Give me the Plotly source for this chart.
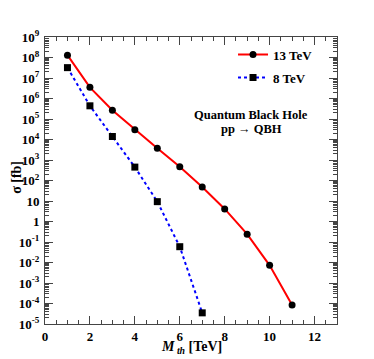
import numpy as np
import plotly.graph_objects as go

# cross sections (fb)
mass_13 = [1, 2, 3, 4, 5, 6, 7, 8, 9, 10, 11]
sigma_13 = [1.3e8, 3.5e6, 2.7e5, 3.0e4, 3.7e3, 470, 48, 4.1, 0.24, 7.3e-3, 8.5e-5]

mass_8 = [1, 2, 3, 4, 5, 6, 7]
sigma_8 = [3.2e7, 4.4e5, 1.4e4, 450, 9.3, 0.059, 3.5e-5]

y_exps = list(range(-5, 10))
y_labels = []
for e in y_exps:
    if e == 0:
        y_labels.append("1")
    elif e == 1:
        y_labels.append("10")
    else:
        y_labels.append(f"10<sup>{e}</sup>")

FONT = "Liberation Serif"
BOLD = dict(family=FONT, color="black", weight="bold")

fig = go.Figure()

fig.add_trace(go.Scatter(
    x=mass_13, y=sigma_13, mode="lines+markers", name="13 TeV", legendgroup="a",
    line=dict(color="#ff0000", width=2),
    marker=dict(symbol="circle", size=7, color="black"),
))
fig.add_trace(go.Scatter(
    x=mass_8, y=sigma_8, mode="lines+markers", name="8 TeV", legendgroup="b",
    line=dict(color="#0000ff", width=2, dash="dot"),
    marker=dict(symbol="square", size=7, color="black"),
))

# minor ticks 2..9 in every decade
minor_vals = [k * 10.0 ** e for e in range(-5, 9) for k in range(2, 10)]

fig.update_xaxes(
    range=[0, 13], tickvals=[0, 2, 4, 6, 8, 10, 12],
    ticks="inside", ticklen=8, tickwidth=1, tickcolor="#444",
    minor=dict(dtick=0.5, tick0=0, ticks="inside", ticklen=4, tickcolor="#444", showgrid=False),
    showline=True, linecolor="#444", linewidth=1, mirror="ticks",
    showgrid=False, zeroline=False, automargin=False, ticklabelstandoff=0,
    tickfont=dict(size=13, **BOLD),
)
fig.update_yaxes(
    type="log", range=[-5, 9],
    tickvals=[10.0 ** e for e in y_exps], ticktext=y_labels,
    ticks="inside", ticklen=8, tickwidth=1, tickcolor="#444",
    minor=dict(tickvals=minor_vals, ticks="inside", ticklen=4, tickcolor="#444", showgrid=False),
    showline=True, linecolor="#444", linewidth=1, mirror="ticks",
    showgrid=False, zeroline=False, automargin=False, ticklabelstandoff=2,
    tickfont=dict(size=13, **BOLD),
)

# axis titles
fig.add_annotation(
    x=-0.10, y=0.512, xref="paper", yref="paper", showarrow=False, textangle=-90,
    xanchor="center", yanchor="middle",
    text="σ [fb]", font=dict(size=14, **BOLD),
)
fig.add_annotation(
    x=0.5, y=-0.082, xref="paper", yref="paper", showarrow=False,
    xanchor="center", yanchor="middle",
    text="<i>M</i><sub><i> th</i></sub> [TeV]", font=dict(size=14, **BOLD),
)

# process label
fig.add_annotation(
    x=0.707, y=0.728, xref="paper", yref="paper", showarrow=False,
    xanchor="center", yanchor="middle",
    text="Quantum Black Hole", font=dict(size=12.5, **BOLD),
)
fig.add_annotation(
    x=0.707, y=0.679, xref="paper", yref="paper", showarrow=False,
    xanchor="center", yanchor="middle",
    text="pp → QBH", font=dict(size=12.5, **BOLD),
)

fig.update_layout(
    width=366, height=351,
    margin=dict(l=37, r=37, t=29, b=35),
    paper_bgcolor="white", plot_bgcolor="white",
    legend=dict(x=0.935, y=0.991, xanchor="right", yanchor="top",
                bgcolor="rgba(0,0,0,0)", tracegroupgap=3,
                font=dict(size=13, **BOLD)),
)

fig.write_html("out.html")
